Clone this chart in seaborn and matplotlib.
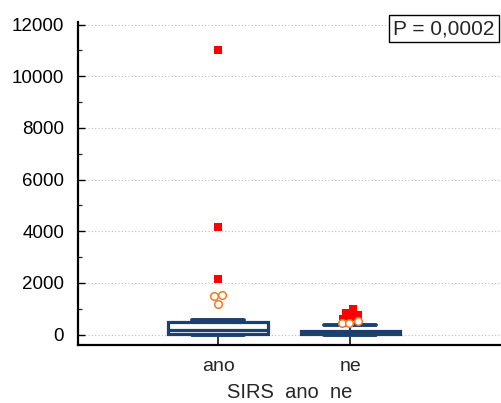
import matplotlib
matplotlib.use("Agg")
import matplotlib.pyplot as plt
import seaborn as sns
from matplotlib.ticker import MultipleLocator

# categories and box statistics
groups = ["ano", "ne"]
q1 = [40, 10]
medians = [200, 60]
q3 = [490, 160]
whisker_low = [0, 0]
whisker_high = [550, 390]

# far outliers (red squares) and outside values (orange circles)
far_group = ["ano", "ano", "ano", "ne", "ne", "ne", "ne", "ne"]
far_values = [11000, 4180, 2170, 620, 850, 1000, 770, 700]
near_group = ["ano", "ano", "ano", "ne", "ne", "ne"]
near_values = [1510, 1550, 1200, 440, 450, 520]

y_ticks = [0, 2000, 4000, 6000, 8000, 10000, 12000]
x_title = "SIRS  ano  ne"
p_label = "P = 0,0002"

# small horizontal spread of the outlier symbols (layout only)
far_jitter = [0, 0, 0, -0.05, -0.03, 0.02, 0.06, 0.01]
near_jitter = [-0.03, 0.03, 0, -0.06, -0.01, 0.06]

sns.set_style("white")
plt.rcParams['font.family'] = ['Liberation Sans', 'DejaVu Sans']

box_color = '#1b3f6f'

fig = plt.figure(figsize=(5.02, 4.03), dpi=100)
ax = fig.add_axes([0.1554, 0.1439, 0.8446, 0.8015])

stats = []
for i, g in enumerate(groups):
    stats.append(dict(label=g, q1=q1[i], med=medians[i], q3=q3[i],
                      whislo=whisker_low[i], whishi=whisker_high[i], fliers=[]))

ax.bxp(stats, positions=range(len(groups)), widths=0.75, capwidths=0.39,
       showfliers=False, patch_artist=True,
       boxprops=dict(facecolor='white', edgecolor=box_color, linewidth=2.3),
       medianprops=dict(color=box_color, linewidth=2.3),
       whiskerprops=dict(color=box_color, linewidth=1.6),
       capprops=dict(color=box_color, linewidth=2.8), zorder=3)

far_x = [groups.index(g) + j for g, j in zip(far_group, far_jitter)]
near_x = [groups.index(g) + j for g, j in zip(near_group, near_jitter)]
sns.scatterplot(x=far_x, y=far_values, marker='s', color='#ff0000', s=30,
                linewidth=0, ax=ax, zorder=4)
sns.scatterplot(x=near_x, y=near_values, marker='o', facecolor='white',
                edgecolor='#f07b24', s=30, linewidth=1.1, ax=ax, zorder=5)

ax.set_xlim(-1.06, 2.15)
ax.set_ylim(-400, 12100)
ax.set_xticks(range(len(groups)))
ax.set_xticklabels(groups)
ax.set_yticks(y_ticks)
ax.yaxis.set_minor_locator(MultipleLocator(1000))
ax.tick_params(axis='y', which='major', direction='in', length=5, width=1.0,
               labelsize=13.5, pad=10, colors='black', left=True)
ax.tick_params(axis='y', which='minor', direction='in', length=3, width=0.9, left=True)
ax.tick_params(axis='x', direction='in', length=6, width=1.4, color='#333333',
               labelsize=14, pad=9, bottom=True)
ax.set_xlabel(x_title, fontsize=14.5, labelpad=6)
ax.set_ylabel("")

ax.grid(axis='y', which='major', linestyle=(0, (1, 2)), color='#bbbbbb', linewidth=0.8)
ax.grid(axis='x', visible=False)
ax.set_axisbelow(True)
for side in ['top', 'right']:
    ax.spines[side].set_visible(False)
for side in ['left', 'bottom']:
    ax.spines[side].set_color('black')
    ax.spines[side].set_linewidth(1.6)

fig.text(0.884, 0.929, p_label, fontsize=15, ha='center', va='center',
         bbox=dict(boxstyle='square,pad=0.2', facecolor='white', edgecolor='black', linewidth=1.0))

fig.savefig('out.png', dpi=100, facecolor='white')
